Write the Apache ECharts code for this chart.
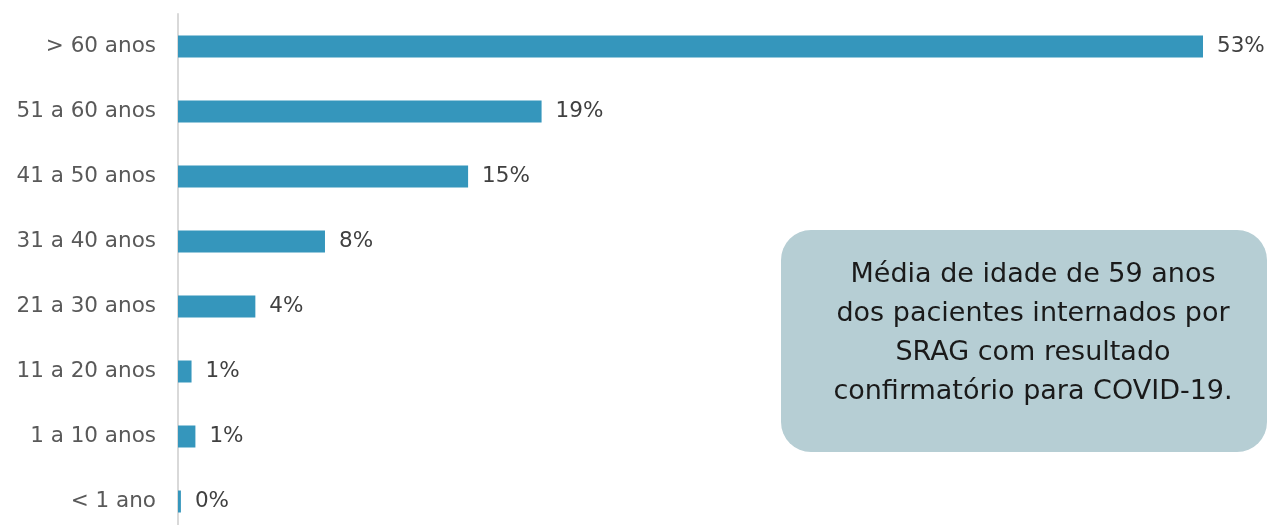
<!DOCTYPE html>
<html>
<head>
<meta charset="utf-8">
<script src="https://cdn.jsdelivr.net/npm/echarts@6/dist/echarts.min.js"></script>
<style>
  html, body { margin: 0; padding: 0; background: #fff; }
  #chart { width: 1267px; height: 525px; }
</style>
</head>
<body>
<div id="chart"></div>
<script>
// faixas etárias, de cima para baixo
const faixas = ['> 60 anos', '51 a 60 anos', '41 a 50 anos', '31 a 40 anos', '21 a 30 anos', '11 a 20 anos', '1 a 10 anos', '< 1 ano']
// percentual (rótulo arredondado)
const percentuais = [53.0, 18.8, 15.0, 7.6, 4.0, 0.7, 0.9, 0.15]
const caixaTexto = 'Média de idade de 59 anos\ndos pacientes internados por\nSRAG com resultado\nconfirmatório para COVID-19.'

const fonte = '"DejaVu Sans", sans-serif'
let chart = echarts.init(document.getElementById('chart'))

let option = {
  animation: false,
  grid: {
    left: 178,
    right: 64,
    top: 14,
    height: 520,
    outerBoundsMode: 'none',
    containLabel: false
  },
  xAxis: {
    type: 'value',
    min: 0,
    max: 53,
    show: false
  },
  yAxis: {
    type: 'category',
    inverse: true,
    data: faixas,
    axisLine: { show: true, lineStyle: { color: '#d9d9d9', width: 2 } },
    axisTick: { show: false },
    axisLabel: {
      margin: 22,
      color: '#595959',
      fontSize: 21.5,
      fontFamily: fonte
    }
  },
  series: [{
    type: 'bar',
    data: percentuais,
    barWidth: 22,
    itemStyle: { color: '#3596BC' },
    label: {
      show: true,
      position: 'right',
      distance: 14,
      color: '#404040',
      fontSize: 21.5,
      fontFamily: fonte,
      formatter: function (p) {
        return Math.round(p.value) + '%'
      }
    }
  }],
  graphic: [{
    type: 'group',
    left: 781,
    top: 230,
    children: [
      {
        type: 'rect',
        shape: { x: 0, y: 0, width: 486, height: 222, r: 30 },
        style: { fill: '#B6CED4' }
      },
      {
        type: 'text',
        x: 252,
        y: 103,
        style: {
          text: caixaTexto,
          fill: '#1a1a1a',
          font: '27px ' + fonte,
          lineHeight: 39,
          align: 'center',
          verticalAlign: 'middle'
        }
      }
    ]
  }]
}
chart.setOption(option)
</script>
</body>
</html>
